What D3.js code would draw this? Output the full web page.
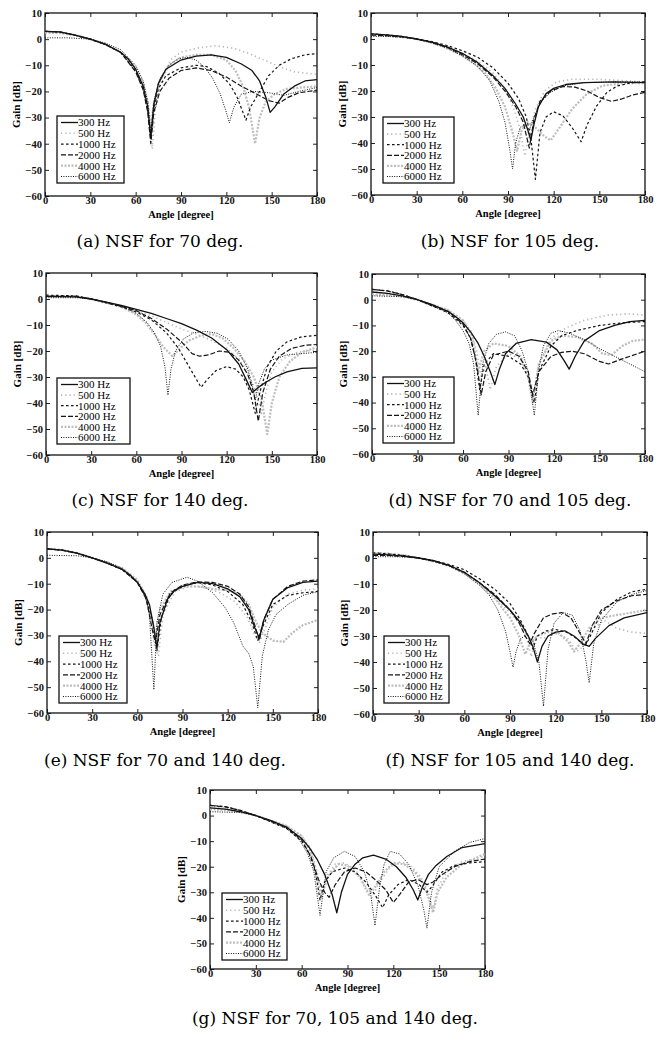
<!DOCTYPE html>
<html>
<head>
<meta charset="utf-8">
<script src="https://cdn.jsdelivr.net/npm/d3@7"></script>
<style>
  body { margin: 0; background: #fff; }
  svg { display: block; }
  .tick text { font-family: "Liberation Serif", serif; font-weight: bold; font-size: 10.5px; fill: #111; }
  .tick line { stroke: #222; }
</style>
</head>
<body>
<svg id="chart" width="671" height="1038"></svg>
<script>
// axes and labels
const angleTicks = [0, 30, 60, 90, 120, 150, 180];
const gainTicks = [10, 0, -10, -20, -30, -40, -50, -60];
const freqLabels = ["300 Hz", "500 Hz", "1000 Hz", "2000 Hz", "4000 Hz", "6000 Hz"];
const captions = [
  "(a) NSF for 70 deg.", "(b) NSF for 105 deg.", "(c) NSF for 140 deg.",
  "(d) NSF for 70 and 105 deg.", "(e) NSF for 70 and 140 deg.",
  "(f) NSF for 105 and 140 deg.", "(g) NSF for 70, 105 and 140 deg."
];

// (a) NSF for 70 deg.  [angle, gain dB]
const a300 = [[0,3],[10,2.8],[20,1.5],[30,0],[40,-2],[50,-5],[55,-7.5],[60,-11.5],[65,-18],[68,-26],[70,-38],[72,-25],[75,-17],[80,-11.5],[90,-8],[100,-6.5],[110,-6],[120,-7],[130,-9.5],[137,-12],[142,-16],[146,-22],[149,-28],[152,-26],[158,-21],[165,-18],[172,-16],[180,-15.5]];
const a500 = [[0,3],[10,2.6],[20,1.5],[30,0],[40,-2],[50,-5],[60,-11],[65,-17],[68,-25],[71,-42],[73,-27],[77,-15],[83,-8],[90,-5],[100,-3.5],[113,-2.5],[125,-3.5],[135,-5.5],[145,-8],[155,-10.5],[165,-12.5],[180,-13.5]];
const a1000 = [[0,3],[10,2.7],[20,1.5],[30,0],[40,-2],[50,-5],[60,-12],[65,-19],[68,-27],[70,-37],[72,-27],[75,-19],[80,-14],[90,-11],[100,-10],[107,-10.5],[115,-13],[122,-17],[127,-22],[131,-28],[133,-31],[136,-26],[142,-20],[148,-14],[155,-10],[163,-7.5],[172,-6],[180,-5.5]];
const a2000 = [[0,3],[10,2.7],[20,1.5],[30,0],[40,-2],[50,-5],[60,-12.5],[65,-19.5],[68,-28],[70,-40],[72,-28],[76,-20],[82,-15],[90,-12],[100,-11],[110,-12],[120,-14.5],[130,-18],[140,-21],[148,-23.5],[155,-24.5],[160,-22.5],[168,-20.5],[180,-19.5]];
const a4000 = [[0,2.5],[10,2.3],[20,1.5],[30,0],[40,-2],[50,-5],[60,-11],[65,-17],[68,-24],[70,-34],[72,-25],[76,-16],[82,-10],[90,-7],[100,-6],[110,-6],[120,-8],[126,-12],[131,-18],[135,-26],[139,-40],[142,-30],[146,-24],[152,-21],[160,-19],[170,-18.5],[180,-18]];
const a6000 = [[0,0.5],[15,0.5],[30,0],[40,-1.5],[50,-4],[60,-10],[65,-16],[68,-24],[70,-36],[72,-24],[76,-15],[82,-10],[88,-7.5],[94,-7],[100,-8],[106,-11],[111,-15],[116,-21],[120,-28],[122,-32],[125,-26],[130,-21],[138,-20],[148,-20.5],[158,-21.5],[168,-20],[180,-18.5]];

// (b) NSF for 105 deg.
const b300 = [[0,2],[10,1.6],[20,1],[30,0],[40,-1.2],[50,-3],[60,-5.5],[70,-9],[80,-14],[88,-19],[95,-25],[100,-30],[103,-35],[105,-39],[107,-33],[110,-26],[115,-21],[120,-19],[128,-17.5],[140,-16.8],[160,-16.5],[180,-16.8]];
const b500 = [[0,2],[10,1.6],[20,1],[30,0],[40,-1.2],[50,-3],[60,-5.5],[70,-8.5],[80,-13],[88,-19],[94,-27],[98,-35],[101,-45],[104,-36],[108,-27],[114,-20],[122,-16.5],[132,-15.5],[150,-15.5],[165,-16],[180,-16.5]];
const b1000 = [[0,2],[10,1.6],[20,1],[30,0],[40,-1],[50,-2.5],[60,-4.5],[70,-7],[80,-11],[90,-17],[97,-23],[102,-30],[105,-38],[108,-54],[111,-36],[115,-30],[120,-28],[126,-29.5],[132,-34],[138,-39.5],[142,-33],[148,-26],[155,-20.5],[162,-18],[170,-17],[180,-16.5]];
const b2000 = [[0,1.5],[10,1.3],[20,0.8],[30,0],[40,-1.3],[50,-3.2],[60,-6],[70,-9.5],[80,-14.5],[88,-20],[95,-26],[100,-32],[104,-42],[107,-31],[111,-24],[118,-20],[126,-18.3],[134,-18.5],[142,-20],[150,-22.5],[158,-24],[165,-23],[172,-21.5],[180,-20.5]];
const b4000 = [[0,1.5],[10,1.3],[20,0.8],[30,0],[40,-1.5],[50,-3.5],[60,-6.5],[68,-9.5],[75,-13],[82,-19],[88,-26],[93,-36],[96,-43],[99,-35],[103,-32],[108,-34],[113,-37],[118,-39],[124,-34],[132,-27],[142,-21],[152,-18],[165,-17],[180,-17]];
const b6000 = [[0,1],[10,1],[20,0.7],[30,0],[40,-1.5],[50,-3.5],[60,-6.5],[70,-10.5],[78,-16],[84,-24],[88,-32],[91,-42],[93,-50],[95,-40],[98,-34],[101,-33],[104,-35],[107,-30],[112,-24],[118,-20.5],[126,-18],[140,-16.8],[160,-16.5],[180,-16.5]];

// (c) NSF for 140 deg.
const c300 = [[0,1],[20,0.8],[30,0],[40,-1.2],[50,-2.5],[60,-4],[70,-5.5],[80,-7.5],[90,-9.5],[100,-12],[110,-15],[120,-19.5],[128,-25],[133,-31],[137,-36],[141,-34],[146,-32],[152,-30],[160,-28],[170,-26.7],[180,-26.5]];
const c500 = [[0,1.2],[20,1],[30,0],[40,-1.3],[50,-2.8],[60,-4.5],[70,-6.5],[80,-9],[90,-11.5],[100,-13.5],[110,-16],[120,-19],[128,-23],[134,-28],[139,-35],[143,-44],[146,-36],[150,-28],[157,-23],[167,-20.5],[180,-19.5]];
const c1000 = [[0,1.5],[20,1.2],[30,0],[40,-1.5],[50,-3],[60,-5],[70,-8],[80,-13],[88,-19],[95,-26],[100,-31],[103,-34],[107,-31],[113,-27.5],[120,-26],[126,-27],[131,-30],[135,-35],[139,-44],[142,-36],[147,-26],[153,-20],[160,-16.5],[170,-14.5],[180,-14]];
const c2000 = [[0,1],[20,1],[30,0],[40,-1.3],[50,-2.8],[60,-4.5],[70,-7.5],[80,-11.5],[90,-16.5],[97,-21],[102,-22],[108,-21.5],[115,-20],[122,-20.5],[128,-23.5],[134,-29],[138,-36],[141,-47],[144,-36],[149,-27],[155,-22],[163,-19],[172,-17.8],[180,-17.5]];
const c4000 = [[0,1],[20,1],[30,0],[40,-1.5],[50,-3],[60,-6],[66,-9],[72,-13.5],[78,-18.5],[84,-22],[88,-19.5],[95,-16],[103,-14],[110,-13.5],[117,-15],[124,-18.5],[132,-24],[138,-30],[143,-38],[147,-52],[150,-40],[155,-30],[162,-24],[170,-20.5],[180,-18.5]];
const c6000 = [[0,0.5],[20,0.5],[30,0],[40,-1.2],[50,-2.8],[60,-5.5],[67,-9],[72,-13],[76,-18],[79,-26],[81,-37],[83,-27],[86,-20],[91,-15.5],[98,-13],[106,-12.5],[114,-13.2],[121,-15.5],[128,-20],[134,-27],[137,-33],[139,-39],[141,-33],[145,-27],[150,-23.5],[160,-21.5],[170,-21],[180,-20.5]];

// (d) NSF for 70 and 105 deg.
const d300 = [[0,3],[10,2.5],[20,1.5],[30,0],[40,-2],[50,-4.5],[55,-6.5],[60,-9],[65,-12.5],[70,-17],[74,-22],[78,-28],[81,-33],[84,-27],[88,-21],[95,-17],[105,-15.5],[115,-16.5],[122,-19.5],[127,-24],[130,-27],[134,-22],[140,-16],[150,-12],[160,-10],[170,-8.5],[180,-8]];
const d500 = [[0,3],[10,2.6],[20,1.5],[30,0],[40,-2],[50,-4],[60,-8],[65,-12],[69,-20],[72,-30],[75,-26],[78,-35],[82,-26],[90,-21],[98,-23],[103,-30],[106,-38],[110,-25],[118,-15],[128,-11],[140,-8],[155,-6],[170,-5.5],[180,-6]];
const d1000 = [[0,4],[10,3.5],[20,2],[30,0],[40,-2.5],[50,-5],[60,-10],[65,-15],[68,-22],[71,-35],[74,-25],[80,-21],[90,-22],[98,-25],[103,-30],[107,-40],[110,-28],[118,-18],[125,-14],[135,-12],[150,-10],[165,-9],[180,-8.5]];
const d2000 = [[0,4],[10,3.4],[20,2],[30,0],[40,-2.2],[50,-4.5],[60,-9.5],[65,-15],[69,-25],[72,-37],[75,-28],[80,-21.5],[90,-20],[97,-22],[103,-28],[106,-37],[110,-28],[118,-22],[125,-20.5],[132,-20],[140,-21],[150,-24],[156,-25],[165,-23],[180,-20]];
const d4000 = [[0,2],[10,1.8],[20,1.2],[30,0],[40,-2],[50,-4],[60,-8],[66,-14],[70,-28],[74,-20],[80,-17],[90,-18],[98,-22],[103,-30],[106,-40],[110,-25],[118,-16],[125,-14],[135,-14.5],[145,-17],[152,-21],[158,-21.5],[165,-18],[172,-16],[180,-15.5]];
const d6000 = [[0,1.5],[20,1.2],[30,0],[40,-2.5],[50,-5],[55,-8],[60,-12],[64,-17],[67,-25],[70,-45],[73,-25],[77,-17],[82,-13.5],[88,-12.5],[94,-14],[99,-20],[103,-28],[107,-45],[110,-27],[113,-18],[118,-13],[123,-12],[130,-13],[140,-15.5],[150,-19],[160,-22],[170,-25],[180,-28]];

// (e) NSF for 70 and 140 deg.
const e300 = [[0,3.5],[10,3],[20,1.8],[30,0],[40,-2],[50,-4.5],[55,-6.5],[60,-9.5],[65,-14],[68,-18],[71,-27],[73,-35],[75,-25],[80,-16],[85,-12.5],[90,-11],[100,-9.5],[110,-10],[120,-12],[128,-15],[134,-20],[138,-27],[141,-31],[144,-24],[150,-16],[160,-11.5],[170,-9.5],[180,-9]];
const e500 = [[0,3.5],[10,3],[20,1.8],[30,0],[40,-2],[50,-4.5],[60,-9.5],[65,-14],[69,-22],[71,-33],[74,-38],[77,-22],[85,-13],[95,-11],[105,-11.5],[115,-13.5],[125,-17],[133,-23],[138,-30],[141,-33],[145,-27],[150,-19],[160,-14],[170,-12.5],[180,-12]];
const e1000 = [[0,3.5],[10,3],[20,1.8],[30,0],[40,-2],[50,-4.5],[60,-9.5],[65,-14.5],[70,-24],[73,-36],[76,-23],[82,-14],[90,-11],[100,-9.5],[110,-10.5],[120,-13],[130,-18],[136,-25],[140,-32],[143,-27],[150,-18],[160,-14.5],[170,-13.5],[180,-13]];
const e2000 = [[0,3.5],[10,3],[20,1.8],[30,0],[40,-2],[50,-4.5],[60,-9.5],[66,-16],[70,-28],[72,-33],[75,-22],[82,-13.5],[90,-10.5],[100,-9.3],[110,-9.5],[120,-11],[128,-14],[134,-19],[138,-26],[141,-32],[144,-24],[150,-16],[160,-11],[170,-9],[180,-8.5]];
const e4000 = [[0,3.5],[10,3],[20,1.8],[30,0],[40,-2],[50,-4],[60,-8.5],[66,-15],[70,-26],[72,-30],[75,-20],[82,-13],[92,-11],[100,-11],[110,-12],[120,-12.5],[128,-14],[134,-18],[139,-25],[143,-29],[150,-32],[157,-32.5],[163,-29],[170,-26],[180,-24]];
const e6000 = [[0,1],[20,0.8],[30,0],[40,-1.5],[50,-4],[60,-9],[65,-14],[68,-22],[71,-51],[73,-25],[77,-14],[83,-9.5],[93,-7.5],[100,-9],[110,-13.5],[118,-19],[124,-25],[130,-34],[134,-37],[137,-42],[140,-58],[143,-38],[147,-28],[152,-22],[160,-18],[170,-14.5],[180,-13]];

// (f) NSF for 105 and 140 deg.
const f300 = [[0,1.5],[10,1.2],[20,0.8],[30,0],[40,-1],[50,-2.8],[60,-5.5],[70,-9.5],[80,-14.5],[90,-20],[97,-25],[102,-30],[105,-34],[108,-40],[111,-34],[115,-30],[120,-28.5],[126,-28],[132,-30],[138,-33],[142,-34],[146,-31],[155,-26],[165,-23],[180,-21]];
const f500 = [[0,2],[10,1.6],[20,1],[30,0],[40,-1.2],[50,-3],[60,-6],[70,-10],[80,-15],[90,-21],[95,-24],[100,-29],[104,-38],[107,-30],[112,-31],[120,-29],[128,-31],[134,-36],[138,-34],[145,-27],[152,-24],[160,-27],[170,-28.5],[180,-29]];
const f1000 = [[0,2],[10,1.6],[20,1],[30,0],[40,-1],[50,-2.5],[60,-4.5],[70,-8],[80,-12],[90,-17.5],[97,-24],[102,-30],[105,-35],[108,-30],[114,-28],[120,-27.5],[127,-28.5],[134,-31],[139,-34],[142,-31],[150,-21],[160,-16],[170,-13],[180,-12]];
const f2000 = [[0,1],[10,1],[20,0.6],[30,0],[40,-1.2],[50,-3],[60,-5.5],[70,-9.5],[80,-14],[90,-20],[96,-25],[100,-30],[103,-33],[106,-29],[112,-23],[118,-21.5],[124,-21],[130,-23],[136,-29],[140,-33],[144,-26],[150,-20],[160,-16.5],[170,-14.5],[180,-14]];
const f4000 = [[0,2],[10,1.7],[20,1],[30,0],[40,-1.3],[50,-3],[60,-6],[70,-10],[80,-15.5],[90,-23],[96,-30],[100,-37],[103,-33],[108,-30],[115,-28.5],[122,-29],[128,-32],[132,-36],[136,-33],[142,-27],[150,-23],[160,-22],[170,-21],[180,-20]];
const f6000 = [[0,0.5],[15,0.5],[30,0],[40,-1.3],[50,-3],[60,-6],[70,-10.5],[76,-14],[82,-20],[87,-28],[90,-36],[92,-42],[94,-36],[97,-31],[101,-29.5],[105,-32],[109,-40],[112,-57],[115,-35],[119,-25],[125,-21],[131,-22],[136,-28],[140,-40],[142,-48],[145,-33],[150,-24],[160,-17],[170,-14],[180,-12.5]];

// (g) NSF for 70, 105 and 140 deg.
const g300 = [[0,3],[10,2.5],[20,1.5],[30,0],[40,-2],[50,-4.5],[60,-9],[65,-12.5],[70,-17],[75,-23],[80,-31],[83,-38],[86,-30],[90,-23],[95,-19],[100,-16.5],[107,-15.5],[115,-17],[122,-20],[128,-24],[133,-29],[136,-33],[139,-28],[143,-23],[148,-19.5],[155,-16],[165,-12.5],[180,-11]];
const g500 = [[0,3.5],[10,3],[20,1.8],[30,0],[40,-2],[50,-4],[60,-8],[66,-13],[70,-22],[73,-30],[76,-24],[82,-19],[88,-18.5],[95,-21],[102,-28],[106,-32],[110,-27],[118,-20],[125,-18],[132,-20],[138,-24],[143,-30],[146,-37],[149,-28],[155,-22],[165,-18],[180,-16]];
const g1000 = [[0,4],[10,3.5],[20,2],[30,0],[40,-2.5],[50,-5],[60,-10],[65,-15],[69,-22],[72,-33],[75,-26],[80,-22],[88,-20.5],[95,-22],[102,-26],[108,-31],[113,-36],[117,-31],[123,-27],[130,-25],[137,-27],[142,-30],[145,-28],[152,-22],[160,-19.5],[170,-18.5],[180,-18]];
const g2000 = [[0,4],[10,3.4],[20,2],[30,0],[40,-2.2],[50,-4.5],[60,-9.5],[66,-16],[71,-25],[75,-30],[78,-32],[82,-27],[88,-22],[95,-20.5],[102,-22],[108,-25],[115,-29],[120,-34],[124,-31],[130,-26],[136,-25],[142,-27],[146,-26],[152,-23],[160,-20],[170,-18],[180,-17]];
const g4000 = [[0,2.5],[10,2.2],[20,1.4],[30,0],[40,-2],[50,-4],[60,-8],[66,-14],[70,-25],[73,-32],[77,-24],[84,-19],[90,-19.5],[98,-24],[104,-31],[108,-28],[114,-22],[120,-18.5],[127,-19],[134,-22],[140,-27],[144,-34],[146,-38],[149,-30],[155,-24],[165,-19],[180,-15]];
const g6000 = [[0,1.5],[20,1.2],[30,0],[40,-2.5],[50,-5],[58,-9],[64,-15],[68,-22],[72,-39],[76,-22],[81,-16.5],[88,-14],[95,-16],[101,-22],[105,-30],[108,-43],[111,-28],[114,-19],[118,-14],[124,-15],[130,-19],[136,-27],[140,-37],[142,-44],[145,-30],[150,-20],[160,-14],[170,-10.5],[180,-9]];

// line style per frequency (same order as freqLabels)
const lineStyles = [
  { stroke: "#111", width: 1.3, dash: null },
  { stroke: "#b4b4b4", width: 1.6, dash: "1.2,3" },
  { stroke: "#151515", width: 1.2, dash: "2.6,2.4" },
  { stroke: "#151515", width: 1.2, dash: "5,2" },
  { stroke: "#bdbdbd", width: 2.2, dash: "2,1.5" },
  { stroke: "#151515", width: 1.0, dash: "1,1.4" }
];

// plot frames [left, top, right, bottom], legend boxes, caption anchors
const panels = [
  { series: [a300, a500, a1000, a2000, a4000, a6000], frame: [45, 13, 317, 196], legend: [57, 116, 124, 183], cap: [160, 241] },
  { series: [b300, b500, b1000, b2000, b4000, b6000], frame: [371, 13, 645, 195], legend: [383, 117, 454, 183], cap: [510, 241] },
  { series: [c300, c500, c1000, c2000, c4000, c6000], frame: [46, 273, 317, 455], legend: [57, 378, 130, 444], cap: [160, 500] },
  { series: [d300, d500, d1000, d2000, d4000, d6000], frame: [372, 274, 645, 454], legend: [383, 377, 454, 443], cap: [510, 500] },
  { series: [e300, e500, e1000, e2000, e4000, e6000], frame: [47, 532, 318, 713], legend: [59, 636, 127, 703], cap: [165, 760] },
  { series: [f300, f500, f1000, f2000, f4000, f6000], frame: [373, 532, 647, 714], legend: [384, 636, 449, 703], cap: [510, 760] },
  { series: [g300, g500, g1000, g2000, g4000, g6000], frame: [210, 790, 485, 969], legend: [222, 893, 287, 960], cap: [335, 1018] }
];

const svg = d3.select("#chart");

panels.forEach((p, i) => {
  const [L, T, R, B] = p.frame;
  const x = d3.scaleLinear().domain([0, 180]).range([L, R]);
  const y = d3.scaleLinear().domain([-60, 10]).range([B, T]);
  const g = svg.append("g");

  g.append("clipPath").attr("id", "clip" + i)
    .append("rect").attr("x", L).attr("y", T).attr("width", R - L).attr("height", B - T);

  // axes, ticks pointing inward
  g.append("g").attr("transform", `translate(0,${B})`)
    .call(d3.axisBottom(x).tickValues(angleTicks).tickSizeInner(-4).tickSizeOuter(0).tickPadding(1))
    .call(a => a.select(".domain").remove());
  g.append("g").attr("transform", `translate(0,${T})`)
    .call(d3.axisTop(x).tickValues(angleTicks).tickSizeInner(-4).tickSizeOuter(0).tickFormat(""))
    .call(a => a.select(".domain").remove());
  g.append("g").attr("transform", `translate(${L},0)`)
    .call(d3.axisLeft(y).tickValues(gainTicks).tickSizeInner(-4).tickSizeOuter(0).tickPadding(3))
    .call(a => a.select(".domain").remove());
  g.append("g").attr("transform", `translate(${R},0)`)
    .call(d3.axisRight(y).tickValues(gainTicks).tickSizeInner(-4).tickSizeOuter(0).tickFormat(""))
    .call(a => a.select(".domain").remove());

  g.append("rect")
    .attr("x", L).attr("y", T).attr("width", R - L).attr("height", B - T)
    .attr("fill", "none").attr("stroke", "#111").attr("stroke-width", 1.3);

  const line = d3.line().x(d => x(d[0])).y(d => y(d[1]));
  const plot = g.append("g").attr("clip-path", `url(#clip${i})`);
  // grey series first so the black ones sit on top
  [1, 4, 0, 2, 3, 5].forEach(k => {
    const s = lineStyles[k];
    plot.append("path")
      .datum(p.series[k])
      .attr("d", line)
      .attr("fill", "none")
      .attr("stroke", s.stroke)
      .attr("stroke-width", s.width)
      .attr("stroke-dasharray", s.dash)
      .attr("stroke-linejoin", "round");
  });

  // axis titles
  g.append("text")
    .attr("x", (L + R) / 2).attr("y", B + 22)
    .attr("text-anchor", "middle")
    .style("font-family", "Liberation Serif, serif").style("font-weight", "bold").style("font-size", "10.5px")
    .text("Angle [degree]");
  g.append("text")
    .attr("transform", `translate(${L - 25},${(T + B) / 2}) rotate(-90)`)
    .attr("text-anchor", "middle")
    .style("font-family", "Liberation Serif, serif").style("font-weight", "bold").style("font-size", "11px")
    .text("Gain [dB]");

  // legend
  const [lx0, ly0, lx1, ly1] = p.legend;
  const leg = g.append("g");
  leg.append("rect")
    .attr("x", lx0).attr("y", ly0).attr("width", lx1 - lx0).attr("height", ly1 - ly0)
    .attr("fill", "#fff").attr("stroke", "#111").attr("stroke-width", 1.3);
  const step = (ly1 - ly0 - 13) / 5;
  freqLabels.forEach((lab, k) => {
    const yy = ly0 + 6.5 + k * step;
    const s = lineStyles[k];
    leg.append("line")
      .attr("x1", lx0 + 4).attr("x2", lx0 + 21).attr("y1", yy).attr("y2", yy)
      .attr("stroke", s.stroke).attr("stroke-width", s.width).attr("stroke-dasharray", s.dash);
    leg.append("text")
      .attr("x", lx0 + 21).attr("y", yy).attr("dy", "0.35em")
      .style("font-family", "Liberation Serif, serif").style("font-size", "11px")
      .text(lab);
  });

  // caption
  svg.append("text")
    .attr("x", p.cap[0]).attr("y", p.cap[1]).attr("dy", "0.35em")
    .attr("text-anchor", "middle")
    .style("font-family", "DejaVu Serif, serif").style("font-size", "17px")
    .text(captions[i]);
});
</script>
</body>
</html>
